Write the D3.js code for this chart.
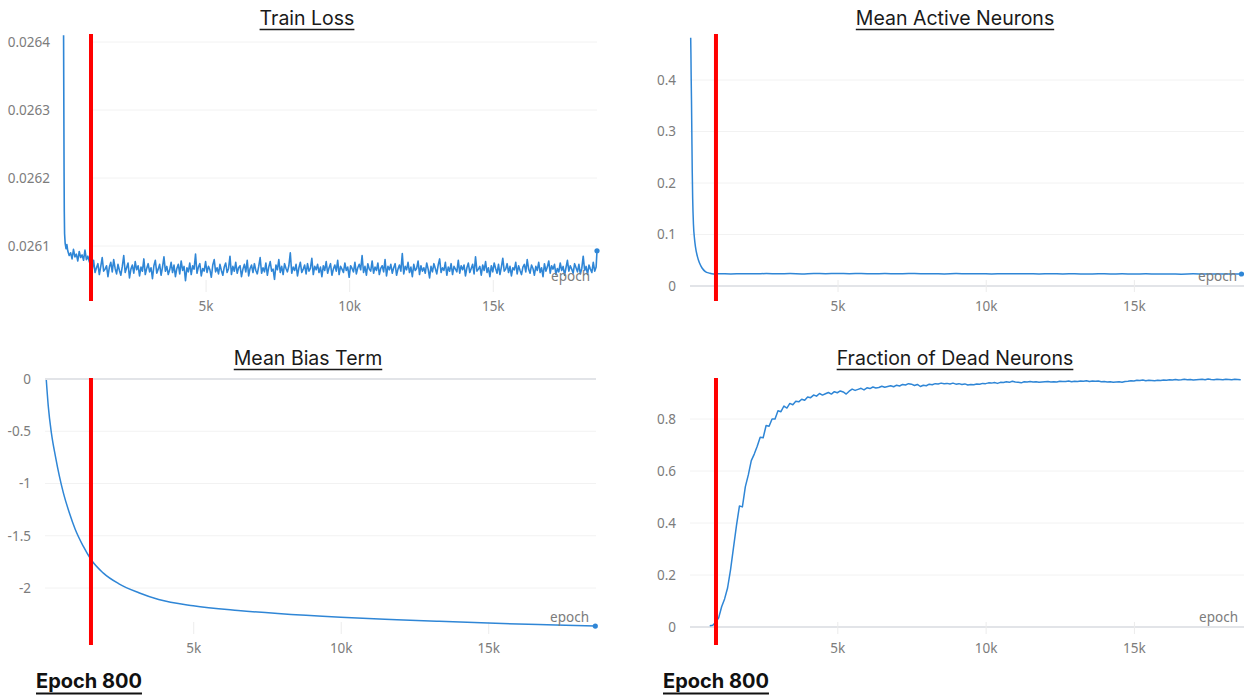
<!DOCTYPE html>
<html>
<head>
<meta charset="utf-8">
<script src="https://cdn.jsdelivr.net/npm/d3@7"></script>
<style>
  html, body { margin: 0; padding: 0; background: #ffffff; }
  svg { display: block; }
</style>
</head>
<body>
<script>
// ---------------- DATA ----------------
const xMax = 18630;
const xTickValues = [5000, 10000, 15000];
const xTickLabels = ["5k", "10k", "15k"];

// Train Loss
const lossTicks = [0.0261, 0.0262, 0.0263, 0.0264];
const lossHeadEpochs = [55, 60, 66, 72, 80, 90, 110, 140, 170];
const lossHeadValues = [0.02641, 0.02635, 0.02628, 0.02621, 0.02615, 0.026118, 0.026104, 0.026096, 0.026102];
const lossBodyStart = 200, lossBodyStep = 50;
const lossBodyValues = [
  0.026093,0.026086,0.02609,0.026081,0.026095,0.026084,0.026088,0.026078,0.026092,0.026083,0.026087,0.026079,0.026094,0.02608,0.026085,0.026077,
  0.026072,0.026065,0.026079,0.026061,0.026068,0.026074,0.026058,0.02607,0.026083,0.026063,
  0.026066,0.026071,0.026055,0.026069,0.026076,0.026062,0.02608,0.026067,0.026059,0.026073,
  0.026064,0.026057,0.02607,0.026086,0.026061,0.026068,0.026075,0.026053,0.026066,0.026072,
  0.02606,0.026077,0.026065,0.026071,0.026056,0.026069,0.026063,0.026081,0.026058,0.026067,
  0.026074,0.026062,0.026068,0.026052,0.026071,0.026079,0.02606,0.026066,0.026073,0.026057,
  0.026069,0.026084,0.026063,0.02607,0.026058,0.026065,0.026076,0.026061,0.026072,0.026055,
  0.026067,0.026073,0.026059,0.026078,0.026064,0.02607,0.026049,0.026068,0.026062,0.026075,
  0.026058,0.026071,0.026066,0.026088,0.02606,0.026069,0.026074,0.026056,0.026067,0.026063,
  0.026077,0.026061,0.02607,0.026065,0.026054,0.026072,0.02608,0.026062,0.026068,0.026059,
  0.026073,0.026064,0.026057,0.026069,0.026075,0.026061,0.026067,0.026085,0.026058,0.02607,
  0.026063,0.026076,0.02606,0.026068,0.026071,0.026055,0.026066,0.026073,0.026062,0.026079,
  0.026056,0.026067,0.026072,0.026061,0.026074,0.026064,0.026059,0.02607,0.026083,0.02606,
  0.026068,0.026062,0.026075,0.026057,0.026069,0.026077,0.026063,0.026066,0.026051,0.026072,
  0.026065,0.02608,0.026061,0.02607,0.026058,0.026074,0.026067,0.026062,0.026071,0.02609,
  0.02606,0.026069,0.026064,0.026073,0.026056,0.026068,0.026076,0.026061,0.026066,0.026072,
  0.026059,0.026074,0.026063,0.026067,0.026082,0.026058,0.02607,0.026065,0.026073,0.026061,
  0.026069,0.026055,0.026071,0.026064,0.026077,0.02606,0.026068,0.026074,0.026057,0.026066,
  0.026072,0.026063,0.026079,0.026058,0.02607,0.026066,0.026061,0.026075,0.026064,0.026069,
  0.026054,0.026071,0.026067,0.026062,0.026076,0.026059,0.026068,0.026073,0.026065,0.026086,
  0.026061,0.02607,0.026057,0.026074,0.026066,0.026063,0.026078,0.02606,0.026069,0.026064,
  0.026075,0.026058,0.026067,0.026071,0.026062,0.02608,0.026056,0.02607,0.026065,0.026073,
  0.02606,0.026068,0.026074,0.026057,0.026066,0.026072,0.026063,0.026089,0.026059,0.02607,
  0.026065,0.026076,0.026061,0.026069,0.026055,0.026073,0.026064,0.026067,0.026078,0.026058,
  0.026071,0.026063,0.026068,0.02606,0.026075,0.026066,0.026053,0.02607,0.026062,0.026074,
  0.026067,0.026059,0.026072,0.026081,0.026061,0.026068,0.026064,0.026076,0.026057,0.026069,
  0.026063,0.026074,0.026058,0.02607,0.026066,0.026062,0.026079,0.02606,0.026071,0.026065,
  0.026072,0.026056,0.026068,0.026075,0.026061,0.026067,0.026073,0.026059,0.026084,0.026063,
  0.026066,0.02607,0.026057,0.026072,0.026064,0.026077,0.026061,0.026068,0.026055,0.026071,
  0.026062,0.026075,0.026067,0.02606,0.026073,0.026058,0.026069,0.026082,0.026063,0.026066,
  0.026074,0.026061,0.02607,0.026056,0.026068,0.026065,0.026076,0.026059,0.026071,0.026064,
  0.026058,0.026069,0.026073,0.026062,0.02608,0.026066,0.02606,0.026072,0.026067,0.026057,
  0.02607,0.026064,0.026076,0.026061,0.026068,0.026055,0.026074,0.026063,0.026069,0.026078,
  0.02606,0.026071,0.026066,0.026073,0.026058,0.026067,0.026062,0.026075,0.026064,0.02607,
  0.026057,0.026068,0.026079,0.026063,0.026071,0.026066,0.02606,0.026074,0.026068,0.026062,
  0.026073,0.026059,0.026067,0.026085,0.026064,0.02607,0.026058,0.026072,0.026066,0.026061,
  0.026076,0.026063,0.026069
];
const lossLast = [18630, 0.026093];

// Mean Active Neurons
const activeTicks = [0, 0.1, 0.2, 0.3, 0.4];
const activeHeadEpochs = [47, 55, 62, 74, 85, 100, 114, 140, 175, 208, 270, 341, 430, 542, 680, 810];
const activeHeadValues = [0.482, 0.45, 0.41, 0.36, 0.30, 0.22, 0.17, 0.12, 0.092, 0.076, 0.058, 0.045, 0.035, 0.028, 0.025, 0.0235];
const activeBodyStart = 1000, activeBodyStep = 400;
const activeBodyValues = [
  0.0238,0.0234,0.0240,0.0236,0.0242,0.0237,0.0241,0.0235,0.0243,0.0238,
  0.0244,0.0239,0.0242,0.0236,0.0241,0.0237,0.0243,0.0238,0.0240,0.0235,
  0.0241,0.0237,0.0239,0.0234,0.0240,0.0236,0.0238,0.0233,0.0239,0.0235,
  0.0237,0.0232,0.0238,0.0234,0.0236,0.0231,0.0237,0.0233,0.0235,0.0230,
  0.0236,0.0232,0.0234,0.0231,0.0233
];
const activeLast = [18630, 0.0233];

// Mean Bias Term
const biasTicks = [0, -0.5, -1, -1.5, -2];
const biasEpochs = [20, 87, 195, 330, 464, 599, 801, 1003, 1272, 1541, 1945, 2483, 3156, 3829, 5000, 6520, 7870, 10000, 11906, 13252, 15000, 17290, 18630];
const biasValues = [-0.01, -0.26, -0.52, -0.74, -0.93, -1.09, -1.28, -1.44, -1.60, -1.73, -1.855, -1.96, -2.045, -2.11, -2.17, -2.215, -2.245, -2.28, -2.303, -2.318, -2.336, -2.354, -2.364];

// Fraction of Dead Neurons
const deadTicks = [0, 0.2, 0.4, 0.6, 0.8];
const deadStart = 700, deadStep = 100;
const deadValues = [
  0.005,0.007,0.018,0.035,0.078,0.108,0.15,0.22,0.305,0.39,
  0.465,0.462,0.54,0.585,0.64,0.665,0.695,0.73,0.728,0.775,
  0.772,0.80,0.80,0.832,0.828,0.85,0.842,0.86,0.855,0.868,
  0.866,0.876,0.872,0.885,0.882,0.892,0.888,0.898,0.892,0.897,
  0.902,0.896,0.905,0.901,0.908,0.904,0.896,0.907,0.915,0.91,
  0.914,0.918,0.912,0.92,0.917,0.923,0.919,0.921,0.926,0.922,
  0.925,0.928,0.924,0.93,0.927,0.933,0.931,0.936,0.934,0.929,
  0.933,0.925,0.93,0.928,0.934,0.932,0.936,0.935,0.938,0.936,
  0.937,0.935,0.938,0.934,0.936,0.933,0.935,0.931,0.933,0.932,
  0.935,0.934,0.937,0.936,0.939,0.938,0.94,0.937,0.941,0.94,
  0.943,0.941,0.945,0.942,0.941,0.939,0.943,0.942,0.944,0.942,
  0.943,0.941,0.942,0.943,0.944,0.942,0.943,0.942,0.945,0.944,
  0.944,0.946,0.943,0.945,0.944,0.946,0.945,0.947,0.944,0.946,
  0.945,0.946,0.943,0.944,0.942,0.943,0.941,0.942,0.943,0.941,
  0.944,0.945,0.947,0.946,0.949,0.948,0.95,0.947,0.949,0.948,
  0.947,0.949,0.948,0.95,0.949,0.951,0.95,0.952,0.95,0.951,
  0.953,0.951,0.952,0.95,0.951,0.952,0.953,0.951,0.954,0.952,
  0.951,0.953,0.952,0.951,0.953,0.952,0.951,0.953,0.952,0.951
];

// Red marker epochs per panel and caption
const markerEpochs = [1010, 900, 1535, 910];
const captionText = "Epoch 800";

// ---------------- BUILD SERIES ----------------
const lossSeries = lossHeadEpochs.map((e, i) => [e, lossHeadValues[i]])
  .concat(lossBodyValues.map((v, i) => [lossBodyStart + i * lossBodyStep, v]))
  .concat([lossLast]);
const activeSeries = activeHeadEpochs.map((e, i) => [e, activeHeadValues[i]])
  .concat(activeBodyValues.map((v, i) => [activeBodyStart + i * activeBodyStep, v]))
  .concat([activeLast]);
const biasSeries = biasEpochs.map((e, i) => [e, biasValues[i]]);
const deadSeries = deadValues.map((v, i) => [deadStart + i * deadStep, v]);

// ---------------- LAYOUT ----------------
const W = 1244, H = 698;
const LINE = "#2f86d6";
const TICK_FONT = "'Noto Sans', 'Open Sans', sans-serif";
const TITLE_FONT = "Inter, Roboto, sans-serif";

const panels = [
  { title: "Train Loss", titleX: 307, titleY: 25,
    xr: [62, 597], yd: [0.0261, 0.0264], yr: [246, 42], ticks: lossTicks,
    fmt: d3.format(".4f"), labelX: 50, gridX: [93, 597], zeroLine: false,
    axisY: 280, epochLabel: [590, 276], redY: [34, 301],
    series: lossSeries, curve: d3.curveLinear, dot: true, width: 1.6, marker: markerEpochs[0] },
  { title: "Mean Active Neurons", titleX: 955, titleY: 25,
    xr: [689.3, 1241.5], yd: [0, 0.4], yr: [286, 80], ticks: activeTicks,
    fmt: d => String(d), labelX: 676, gridX: [690, 1244], zeroLine: true,
    axisY: 280, epochLabel: [1237, 276], redY: [34, 301],
    series: activeSeries, curve: d3.curveMonotoneX, dot: true, width: 1.5, marker: markerEpochs[1] },
  { title: "Mean Bias Term", titleX: 308, titleY: 365,
    xr: [45.7, 595.3], yd: [-2, 0], yr: [588, 379], ticks: biasTicks,
    fmt: d => String(d), labelX: 31, gridX: [45, 596], zeroLine: true,
    axisY: 622, epochLabel: [589, 617], redY: [378, 645],
    series: biasSeries, curve: d3.curveMonotoneX, dot: true, width: 1.5, marker: markerEpochs[2] },
  { title: "Fraction of Dead Neurons", titleX: 955, titleY: 365,
    xr: [689, 1241.6], yd: [0, 0.8], yr: [627, 419], ticks: deadTicks,
    fmt: d => String(d), labelX: 676, gridX: [690, 1244], zeroLine: true,
    axisY: 622, epochLabel: [1238, 617], redY: [378, 645],
    series: deadSeries, curve: d3.curveLinear, dot: false, width: 1.5, marker: markerEpochs[3] }
];

const svg = d3.select("body").append("svg")
  .attr("width", W).attr("height", H)
  .attr("viewBox", `0 0 ${W} ${H}`);

panels.forEach(p => {
  const g = svg.append("g");
  const x = d3.scaleLinear().domain([0, xMax]).range(p.xr);
  const y = d3.scaleLinear().domain(p.yd).range(p.yr);

  // horizontal gridlines
  g.append("g").selectAll("line").data(p.ticks).join("line")
    .attr("x1", p.gridX[0]).attr("x2", p.gridX[1])
    .attr("y1", d => y(d)).attr("y2", d => y(d))
    .attr("stroke", d => (p.zeroLine && d === 0) ? "#e2e4e8" : "#f2f2f2")
    .attr("stroke-width", d => (p.zeroLine && d === 0) ? 2 : 1);

  // y axis labels
  const yAxis = d3.axisLeft(y).tickValues(p.ticks).tickFormat(p.fmt).tickSize(0).tickPadding(0);
  const ya = g.append("g").attr("transform", `translate(${p.labelX},0)`).call(yAxis);
  ya.select(".domain").remove();
  ya.selectAll("text").attr("fill", "#7c7c7c")
    .style("font-family", TICK_FONT).style("font-size", "13.5px");

  // x axis
  const xAxis = d3.axisBottom(x).tickValues(xTickValues)
    .tickFormat((d, i) => xTickLabels[i]).tickSize(12).tickPadding(9);
  const xa = g.append("g").attr("transform", `translate(0,${p.axisY})`).call(xAxis);
  xa.select(".domain").remove();
  xa.selectAll(".tick line").attr("stroke", "#ececec");
  xa.selectAll("text").attr("fill", "#7c7c7c")
    .style("font-family", TICK_FONT).style("font-size", "13.5px");

  // data line
  const line = d3.line().x(d => x(d[0])).y(d => y(d[1])).curve(p.curve);
  g.append("path").datum(p.series)
    .attr("d", line).attr("fill", "none")
    .attr("stroke", LINE).attr("stroke-width", p.width)
    .attr("stroke-linejoin", "round");

  if (p.dot) {
    const last = p.series[p.series.length - 1];
    g.append("circle").attr("cx", x(last[0])).attr("cy", y(last[1]))
      .attr("r", 2.6).attr("fill", LINE);
  }

  // "epoch" axis label
  g.append("text").attr("x", p.epochLabel[0]).attr("y", p.epochLabel[1])
    .attr("dy", "0.35em").attr("text-anchor", "end")
    .attr("fill", "#7c7c7c").style("font-family", TICK_FONT).style("font-size", "13.5px")
    .text("epoch");

  // red marker
  g.append("line").attr("x1", x(p.marker)).attr("x2", x(p.marker))
    .attr("y1", p.redY[0]).attr("y2", p.redY[1])
    .attr("stroke", "#ff0000").attr("stroke-width", 4);

  // title (underlined)
  const t = g.append("text").attr("x", p.titleX).attr("y", p.titleY)
    .attr("text-anchor", "middle").attr("fill", "#1a1a1a")
    .style("font-family", TITLE_FONT).style("font-size", "19.5px")
    .text(p.title);
  const tw = t.node().getComputedTextLength();
  g.append("line").attr("x1", p.titleX - tw / 2).attr("x2", p.titleX + tw / 2)
    .attr("y1", p.titleY + 4.5).attr("y2", p.titleY + 4.5)
    .attr("stroke", "#1a1a1a").attr("stroke-width", 1.5);
});

// captions "Epoch 800"
[36, 663].forEach(cx => {
  const t = svg.append("text").attr("x", cx).attr("y", 688)
    .attr("fill", "#111").style("font-family", TITLE_FONT)
    .style("font-size", "20px").style("font-weight", "700")
    .text(captionText);
  const tw = t.node().getComputedTextLength();
  svg.append("line").attr("x1", cx).attr("x2", cx + tw)
    .attr("y1", 693.5).attr("y2", 693.5)
    .attr("stroke", "#111").attr("stroke-width", 2);
});
</script>
</body>
</html>
